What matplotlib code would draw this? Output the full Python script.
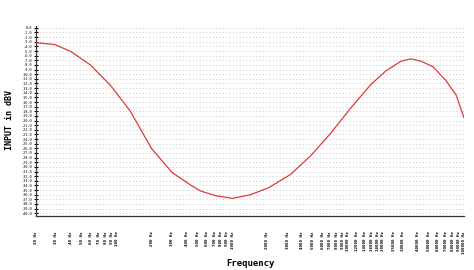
import matplotlib
matplotlib.use("Agg")
import matplotlib.pyplot as plt
import numpy as np

freq_hz = [20, 29, 40, 59, 88, 130, 200, 300, 432, 528, 711, 1000, 1430, 2050, 3180,
           4730, 7060, 10500, 15700, 21100, 28500, 34800, 42600, 54000, 70000, 85500, 100000]
input_dbv = [-3.2, -3.6, -5.1, -8.0, -12.4, -17.9, -26.1, -31.2, -33.9, -35.2, -36.2, -36.8,
             -36.0, -34.5, -31.6, -27.6, -22.7, -17.3, -12.2, -9.3, -7.2, -6.7, -7.2, -8.4,
             -11.4, -14.5, -19.4]

x_ticks = [20, 30, 40, 50, 60, 70, 80, 90, 100, 200, 300, 400, 500, 600, 700, 800, 900, 1000,
           2000, 3000, 4000, 5000, 6000, 7000, 8000, 9000, 10000, 12000, 14000, 16000, 18000,
           20000, 25000, 30000, 40000, 50000, 60000, 70000, 80000, 90000, 100000]
x_tick_labels = [f"{v} Hz" for v in x_ticks]
y_ticks = list(range(-40, 1))
y_tick_labels = [f"{v:.1f}" for v in y_ticks]

fig = plt.figure(figsize=(4.74, 2.70), dpi=100)
ax = fig.add_axes([36/474, 54/270, 428/474, 190/270])

for yv in y_ticks:
    ax.axhline(yv, color="#b8b8b8", lw=0.6, ls=(0, (1, 3)), zorder=0)

ax.plot(freq_hz, input_dbv, color="#dd3b3b", lw=0.9, zorder=3)

ax.set_xscale("log")
ax.set_xlim(20, 100000)
ax.set_ylim(-40.6, 0.4)
ax.set_xticks(x_ticks)
ax.set_xticklabels(x_tick_labels, rotation=90, fontsize=3.0, family="DejaVu Sans Mono",
                   fontweight="bold", va="top")
ax.xaxis.set_minor_locator(matplotlib.ticker.NullLocator())
ax.tick_params(axis="x", length=0, pad=11)
ax.set_yticks(y_ticks)
ax.set_yticklabels(y_tick_labels, fontsize=2.6, family="DejaVu Sans Mono")
ax.tick_params(axis="y", length=3, width=0.8, direction="inout", pad=1.5)

for s in ["top", "right"]:
    ax.spines[s].set_visible(False)
ax.spines["left"].set_color("#333333")
ax.spines["bottom"].set_color("#333333")
ax.spines["left"].set_linewidth(0.9)
ax.spines["bottom"].set_linewidth(0.9)

fig.text(250/474, 1 - 263/270, "Frequency", ha="center", va="center", fontsize=6.5,
         family="DejaVu Sans Mono", fontweight="bold")
fig.text(10/474, 1 - 120/270, "INPUT in dBV", ha="center", va="center", fontsize=6,
         family="DejaVu Sans Mono", fontweight="bold", rotation=90)

fig.savefig("out.png", dpi=100, facecolor="white")
